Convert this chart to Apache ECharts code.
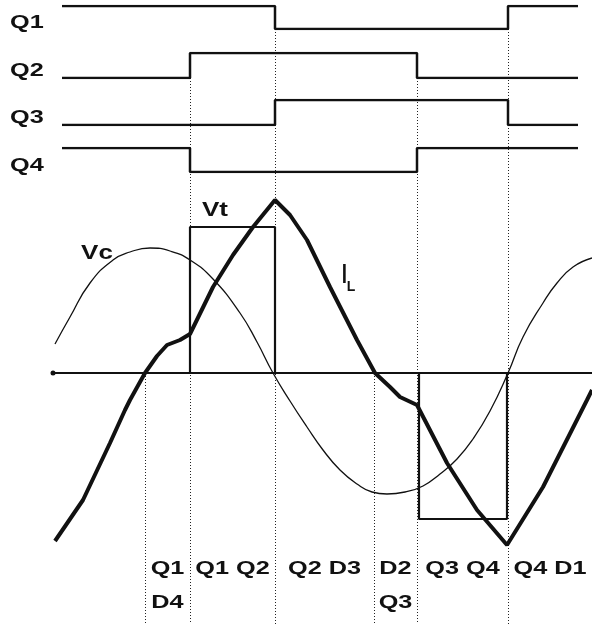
<!DOCTYPE html>
<html><head><meta charset="utf-8">
<script src="https://cdn.jsdelivr.net/npm/echarts@6/dist/echarts.min.js"></script>
<style>html,body{margin:0;padding:0;background:#fff}#c{width:592px;height:624px}</style>
</head><body><div id="c"></div>
<script>
// Time in arbitrary units; signal values.
const q1 = [[62,1],[275,0],[508,1],[578,1]];
const q2 = [[62,0],[190,1],[417,0],[578,0]];
const q3 = [[62,0],[275,1],[508,0],[578,0]];
const q4 = [[62,1],[190,0],[417,1],[578,1]];
const gateNames = ['Q1','Q2','Q3','Q4'];
const switchTimes = [145,190,275,374,417,508];
const intervals = [[145,190],[190,275],[275,374],[374,417],[417,508],[508,592]];
const intervalLabels = [['Q1','D4'],['Q1 Q2'],['Q2 D3'],['D2','Q3'],['Q3 Q4'],['Q4 D1']];
const vt = [[190,0],[190,146],[275,146],[275,0],[419,0],[419,-146],[507,-146],[507,0]];
const vc = [[55,29],[70,56],[90,90],[113,113],[130,121],[150,125],[170,122],[190,113],[213,94],[240,60],[257,31],[273,0],[290,-28],[307,-54],[323,-77],[340,-97],[357,-111],[372,-119],[387,-121],[405,-119],[423,-113],[440,-101],[457,-86],[473,-66],[490,-38],[508,0],[523,36],[543,70],[557,90],[573,106],[592,115]];
const iL = [[55,-168],[83,-127],[110,-70],[125,-37],[130,-27],[145,0],[157,17],[167,28],[180,33],[190,39],[213,86],[233,118],[253,146],[275,173],[290,158],[307,133],[330,86],[357,33],[375,0],[390,-14],[400,-24],[417,-32],[447,-90],[477,-137],[507,-172],[543,-114],[587,-27],[592,-17]];

const INK = '#111';
const qGrids = [{top:6,height:23},{top:53,height:25},{top:100,height:25},{top:148,height:24}];
const grids = qGrids.map(g => ({left:62, right:14, top:g.top, height:g.height}));
grids.push({left:53, right:0, top:173, bottom:0});
const xAxes = qGrids.map((g,i) => ({type:'value', gridIndex:i, min:62, max:578, show:false}));
xAxes.push({type:'value', gridIndex:4, min:53, max:592,
  axisLine:{show:true, onZero:true, symbol:['circle','none'], symbolSize:[5,5], lineStyle:{color:INK, width:2}},
  axisTick:{show:false}, axisLabel:{show:false}, splitLine:{show:false}});
const yAxes = qGrids.map((g,i) => ({type:'value', gridIndex:i, min:0, max:1, show:false}));
yAxes.push({type:'value', gridIndex:4, min:-251, max:200, axisLine:{show:false}, axisTick:{show:false}, axisLabel:{show:false}, splitLine:{show:false}});

const series = [q1,q2,q3,q4].map((d,i) => ({type:'line', xAxisIndex:i, yAxisIndex:i, data:d, step:'end', showSymbol:false, silent:true, lineStyle:{color:INK, width:2.5}}));
series.push({type:'line', name:'Vt', xAxisIndex:4, yAxisIndex:4, data:vt, showSymbol:false, silent:true, lineStyle:{color:INK, width:2.2}});
series.push({type:'line', name:'Vc', xAxisIndex:4, yAxisIndex:4, data:vc, smooth:0.5, showSymbol:false, silent:true, lineStyle:{color:INK, width:1.3}});
series.push({type:'line', name:'IL', xAxisIndex:4, yAxisIndex:4, data:iL, showSymbol:false, silent:true, lineStyle:{color:INK, width:4}});

const chart = echarts.init(document.getElementById('c'));
chart.setOption({animation:false, backgroundColor:'#fff', grid:grids, xAxis:xAxes, yAxis:yAxes, series:series});

const px = (gi, pt) => chart.convertToPixel({gridIndex:gi}, pt);
const FONT = 'bold 19px "Liberation Sans", Arial, sans-serif';
function label(x, y, text, align, opts) {
  opts = opts || {};
  return {type:'text', x:x, y:y, scaleX: opts.scaleX || 1.33, z:10,
    style:{text:text, fill:INK, font: opts.font || FONT,
      textAlign:align, align:align, textVerticalAlign:'middle', verticalAlign:'middle'}};
}
const graphic = [];
const gates = [q1,q2,q3,q4];
switchTimes.forEach(t => {
  const gi = gates.findIndex(s => s.some((p,i) => i > 0 && p[0] === t));
  const top = px(gi >= 0 ? gi : 4, [t, 0]);
  const bot = px(4, [t, -251]);
  const x = Math.round(top[0]) + 0.5;
  graphic.push({type:'line', z:0, shape:{x1:x, y1:top[1], x2:x, y2:bot[1]}, style:{stroke:'#222', lineWidth:1, lineDash:[1,2]}});
});
gateNames.forEach((n,i) => {
  const p = px(i, [62, 0.28]);
  graphic.push(label(10, p[1], n, 'left'));
});
intervals.forEach((iv,k) => {
  const mid = (iv[0] + iv[1]) / 2;
  intervalLabels[k].forEach((t,row) => {
    const p = px(4, [mid, row === 0 ? -196 : -230]);
    graphic.push(label(p[0], p[1], t, 'center'));
  });
});
let p = px(4, [97, 120]);
graphic.push(label(p[0], p[1], 'Vc', 'center', {font:'bold 20px "Liberation Sans", Arial, sans-serif', scaleX:1.3}));
p = px(4, [215, 163]);
graphic.push(label(p[0], p[1], 'Vt', 'center', {font:'bold 20px "Liberation Sans", Arial, sans-serif', scaleX:1.3}));
p = px(4, [344.5, 98]);
graphic.push(label(p[0], p[1], 'I', 'center', {font:'28px "Liberation Sans", Arial, sans-serif', scaleX:1}));
p = px(4, [351, 85.5]);
graphic.push(label(p[0], p[1], 'L', 'center', {font:'bold 14px "Liberation Sans", Arial, sans-serif', scaleX:1}));
chart.setOption({graphic: graphic});
</script></body></html>
